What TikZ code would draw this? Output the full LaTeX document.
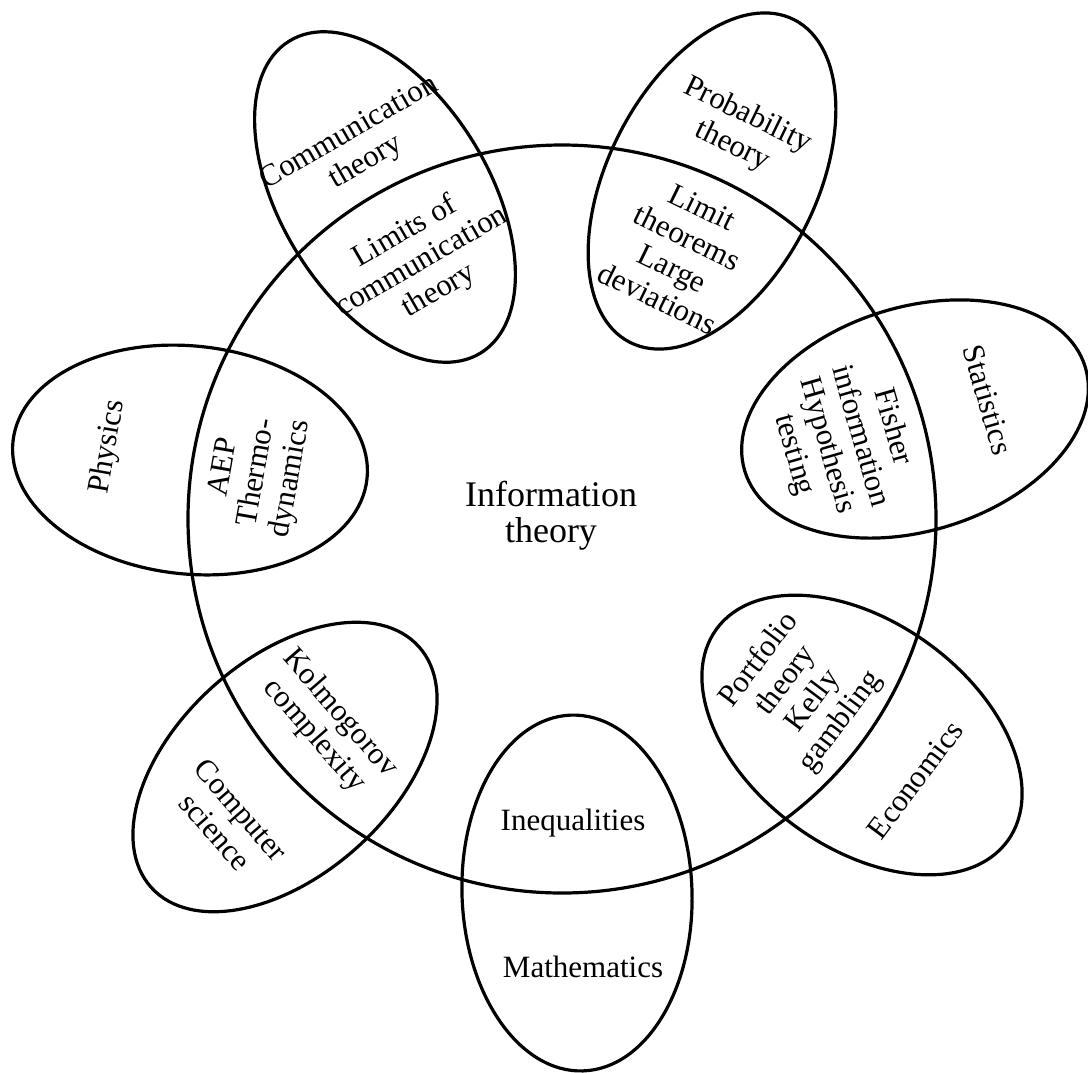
\documentclass[tikz,border=0pt]{standalone}
\usepackage{fontspec}
\setmainfont{Liberation Serif}
\usetikzlibrary{shapes.geometric}
\begin{document}
\begin{tikzpicture}[x=1pt,y=1pt,
  ring/.style={draw=black, line width=3.2pt, inner sep=0pt, outer sep=0pt},
  sat/.style={ring, ellipse},
  lbl/.style={align=center, font=\fontsize{31}{34}\selectfont, inner sep=0pt, text=black},
  bigl/.style={align=center, font=\fontsize{36}{36}\selectfont, inner sep=0pt, text=black},
  ]
\fill[white] (0,0) rectangle (1088,-1072);
\useasboundingbox (0,0) rectangle (1088,-1072);
% central circle
\node[ring, circle, minimum size=748pt] (main) at (562,-519) {};
% satellite ellipses
\node[sat, minimum width=356pt, minimum height=230pt, rotate=-88] (math) at (577,-893) {};
\node[sat, minimum width=360pt, minimum height=226pt, rotate=-36] (econ) at (862,-735) {};
\node[sat, minimum width=356pt, minimum height=224pt, rotate=17] (stat) at (915,-419) {};
\node[sat, minimum width=362pt, minimum height=208pt, rotate=63] (prob) at (712,-181) {};
\node[sat, minimum width=366pt, minimum height=208pt, rotate=121.5] (comm) at (385,-197) {};
\node[sat, minimum width=356pt, minimum height=228pt, rotate=174] (phys) at (190,-460) {};
\node[sat, minimum width=360pt, minimum height=216pt, rotate=42] (cs) at (285,-767) {};
% labels
\node[bigl] (tinfo) at (551,-516) {Information\\theory};
\node[lbl, rotate=30] (tcomm) at (358,-148) {Communication\\theory};
\node[lbl, rotate=30] (tlimc) at (422,-262) {Limits of\\communication\\theory};
\node[lbl, rotate=-26] (tprob) at (740,-131) {Probability\\theory};
\node[lbl, rotate=-26] (tlimt) at (680,-253) {Limit\\theorems\\Large\\deviations};
\node[lbl, rotate=-74] (tstat) at (988,-400) {Statistics};
\node[lbl, rotate=-74] (tfish) at (843,-441) {Fisher\\information\\Hypothesis\\testing};
\node[lbl, rotate=53] (tecon) at (915,-780) {Economics};
\node[lbl, rotate=53] (tport) at (800,-691) {Portfolio\\theory\\Kelly\\gambling};
\node[lbl] (tineq) at (573,-823) {Inequalities};
\node[lbl] (tmath) at (583,-967) {Mathematics};
\node[lbl, rotate=-49] (tkolm) at (327,-725) {Kolmogorov\\complexity};
\node[lbl, rotate=-49] (tcs) at (228,-821) {Computer\\science};
\node[lbl, rotate=80] (tphys) at (108,-447) {Physics};
\node[lbl, rotate=80] (taep) at (258,-473) {AEP\\Thermo-\\dynamics};
\end{tikzpicture}
\end{document}
